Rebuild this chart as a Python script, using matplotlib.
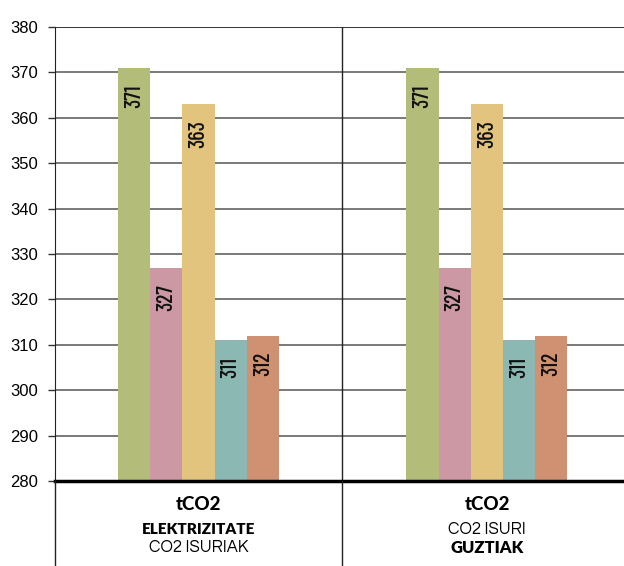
import matplotlib
matplotlib.use('Agg')
import matplotlib.pyplot as plt
import numpy as np

groups = ['ELEKTRIZITATE CO2 ISURIAK', 'CO2 ISURI GUZTIAK']
values = [
    [371, 371],
    [327, 327],
    [363, 363],
    [311, 311],
    [312, 312],
]
colors = ['#B3BC78', '#CC98A3', '#E2C47E', '#8CB8B3', '#D09072']
yticks = list(range(280, 381, 10))
# (text, weight) per line under each group
group_labels = [
    [('tCO2', 'black'), ('ELEKTRIZITATE', 'heavy'), ('CO2 ISURIAK', 'normal')],
    [('tCO2', 'black'), ('CO2 ISURI', 'normal'), ('GUZTIAK', 'heavy')],
]

W, H = 624, 566
fig = plt.figure(figsize=(W / 100, H / 100), dpi=100)
ax = fig.add_axes([55 / W, 1 - 481 / H, 1 - 55 / W, (481 - 27) / H])

x = np.arange(len(groups))
bw = 0.1116
for i, (vals, c) in enumerate(zip(values, colors)):
    pos = x + (i - 2) * bw
    ax.bar(pos, [v - 280 for v in vals], bottom=280, width=bw, color=c, zorder=3)
    for p, v in zip(pos, vals):
        ax.text(p, v - 3.6, str(v), rotation=90, ha='center', va='top',
                fontsize=16, fontweight='medium',
                family=['Barlow Condensed', 'DejaVu Sans'],
                color='#111111', zorder=4)

ax.set_xlim(-0.497, 1.475)
ax.set_ylim(280, 380)
ax.set_yticks(yticks)
ax.set_yticklabels([str(t) for t in yticks], family='Liberation Sans', fontsize=12)
ax.tick_params(axis='y', length=5, width=1, color='#333333', pad=7)
ax.set_xticks([])
for t in yticks[1:]:
    ax.axhline(t, color='#000000' if t == 380 else '#555555', lw=1.1, zorder=1)
for s in ['top', 'right', 'bottom']:
    ax.spines[s].set_visible(False)
ax.spines['left'].set_color('#222222')
ax.axhline(280, color='black', lw=2.5, zorder=5, clip_on=False)
ax.axvline(0.497, color='#222222', lw=1, zorder=2)

# vertical separators below the axis
for px in [55, 342]:
    fig.add_artist(plt.Line2D([px / W, px / W], [0, 1 - 481 / H], color='#222222', lw=1))

ys = [505, 529, 548]
sizes = [13.5, 11, 12]
for gi, lines in enumerate(group_labels):
    cx = ax.transData.transform((x[gi], 300))[0] / W
    for (txt, wt), yy, fs in zip(lines, ys, sizes):
        if wt == 'normal':
            fam = ['Questrial', 'DejaVu Sans']
            fs = 12
        else:
            fam = ['Lato', 'DejaVu Sans']
        fig.text(cx, 1 - yy / H, txt, ha='center', va='center', fontsize=fs,
                 fontweight=wt, family=fam)

fig.savefig('out.png', dpi=100)
